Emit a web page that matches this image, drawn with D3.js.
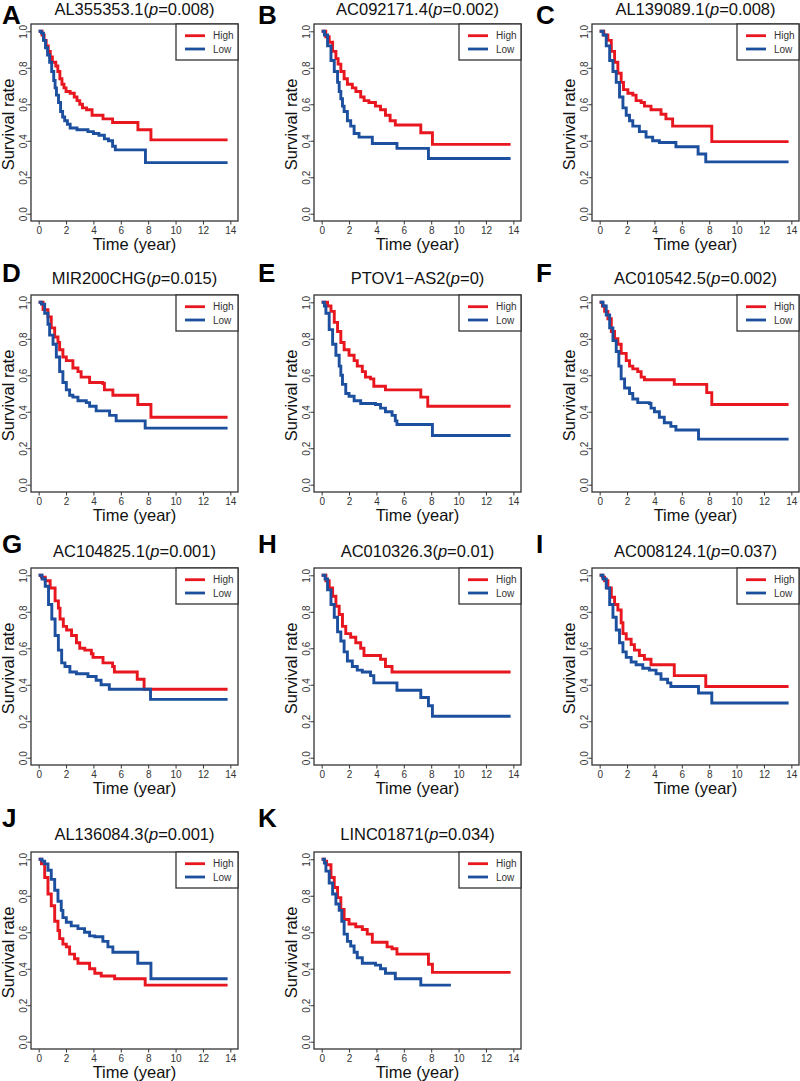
<!DOCTYPE html>
<html>
<head>
<meta charset="utf-8">
<script src="https://cdn.jsdelivr.net/npm/d3@7"></script>
<style>
  html, body { margin: 0; padding: 0; background: #fff; }
  svg { display: block; font-family: "Liberation Sans", Arial, sans-serif; }
</style>
</head>
<body>
<svg id="chart" width="800" height="1081"></svg>
<script>
// ---------- data ----------
const letters = ["A","B","C","D","E","F","G","H","I","J","K"];
const genes = ["AL355353.1","AC092171.4","AL139089.1","MIR200CHG","PTOV1\u2212AS2","AC010542.5","AC104825.1","AC010326.3","AC008124.1","AL136084.3","LINC01871"];
const pValues = ["0.008","0.002","0.008","0.015","0","0.002","0.001","0.01","0.037","0.001","0.034"];
const legendLabels = ["High","Low"];
const xTicks = [0,2,4,6,8,10,12,14];
const yTicks = [0,0.2,0.4,0.6,0.8,1.0];

const highA = [[0,1],[0.25,0.98],[0.4,0.95],[0.55,0.92],[0.7,0.89],[0.85,0.86],[1.0,0.83],[1.25,0.81],[1.4,0.78],[1.55,0.74],[1.7,0.71],[1.85,0.69],[2.0,0.67],[2.3,0.66],[2.6,0.64],[2.8,0.62],[3.0,0.60],[3.2,0.58],[3.5,0.57],[3.9,0.54],[4.7,0.52],[5.4,0.50],[7.25,0.46],[8.2,0.405],[13.8,0.405]];
const lowA = [[0,1],[0.2,0.99],[0.35,0.95],[0.5,0.91],[0.65,0.87],[0.8,0.83],[0.95,0.78],[1.1,0.73],[1.2,0.69],[1.3,0.65],[1.45,0.61],[1.6,0.56],[1.75,0.53],[1.9,0.51],[2.1,0.49],[2.3,0.47],[2.8,0.46],[3.6,0.45],[4.0,0.44],[4.4,0.43],[4.8,0.41],[5.1,0.40],[5.4,0.37],[5.6,0.35],[7.8,0.28],[13.8,0.28]];
const highB = [[0,1],[0.3,0.97],[0.55,0.94],[0.8,0.89],[1.04,0.85],[1.2,0.82],[1.4,0.78],[1.64,0.74],[1.88,0.71],[2.24,0.69],[2.5,0.67],[2.85,0.64],[3.1,0.62],[3.45,0.61],[3.93,0.59],[4.3,0.57],[4.66,0.54],[5.0,0.51],[5.38,0.486],[7.24,0.444],[8.09,0.38],[13.8,0.38]];
const lowB = [[0,1],[0.2,0.98],[0.43,0.92],[0.68,0.84],[0.92,0.78],[1.16,0.72],[1.28,0.67],[1.4,0.63],[1.52,0.59],[1.64,0.56],[1.88,0.51],[2.12,0.48],[2.37,0.44],[2.73,0.42],[3.7,0.385],[5.5,0.358],[7.8,0.303],[13.8,0.303]];
const highC = [[0,1],[0.3,0.98],[0.6,0.95],[0.85,0.89],[1.09,0.83],[1.33,0.77],[1.57,0.72],[1.74,0.68],[2.06,0.66],[2.42,0.65],[2.66,0.62],[3.03,0.61],[3.27,0.59],[3.75,0.57],[4.48,0.545],[4.84,0.52],[5.33,0.48],[8.19,0.395],[13.8,0.395]];
const lowC = [[0,1],[0.25,0.98],[0.48,0.92],[0.73,0.84],[0.97,0.78],[1.21,0.72],[1.45,0.64],[1.7,0.58],[1.94,0.54],[2.18,0.51],[2.42,0.48],[2.9,0.45],[3.39,0.42],[3.87,0.40],[4.36,0.39],[5.57,0.367],[7.19,0.327],[7.75,0.284],[13.8,0.284]];
const highD = [[0,1],[0.32,0.96],[0.68,0.92],[0.92,0.86],[1.17,0.81],[1.41,0.78],[1.53,0.74],[1.77,0.70],[2.02,0.68],[2.5,0.64],[2.87,0.62],[3.1,0.59],[3.72,0.56],[4.69,0.555],[4.8,0.52],[5.42,0.49],[7.24,0.44],[8.2,0.37],[13.8,0.37]];
const lowD = [[0,1],[0.2,0.99],[0.44,0.94],[0.68,0.88],[0.8,0.82],[1.05,0.77],[1.29,0.70],[1.53,0.62],[1.77,0.56],[2.02,0.52],[2.26,0.49],[2.5,0.48],[2.87,0.46],[3.48,0.45],[3.72,0.43],[4.2,0.405],[5.18,0.38],[5.66,0.35],[7.78,0.31],[13.8,0.31]];
const highE = [[0,1],[0.43,0.98],[0.68,0.95],[0.92,0.89],[1.16,0.84],[1.4,0.78],[1.64,0.74],[2.0,0.71],[2.37,0.68],[2.6,0.65],[2.97,0.62],[3.2,0.59],[3.57,0.58],[3.81,0.54],[4.66,0.52],[7.24,0.48],[7.75,0.43],[13.8,0.43]];
const lowE = [[0,1],[0.2,0.98],[0.31,0.94],[0.55,0.85],[0.8,0.77],[1.04,0.71],[1.28,0.65],[1.4,0.60],[1.52,0.55],[1.76,0.50],[2.0,0.485],[2.37,0.46],[2.85,0.445],[3.93,0.44],[4.3,0.42],[4.66,0.40],[5.14,0.38],[5.38,0.35],[5.5,0.33],[8.09,0.27],[13.8,0.27]];
const highF = [[0,1],[0.2,0.98],[0.36,0.95],[0.6,0.91],[0.85,0.84],[1.09,0.80],[1.33,0.77],[1.57,0.72],[1.94,0.68],[2.18,0.65],[2.42,0.635],[2.78,0.62],[3.03,0.59],[3.27,0.575],[5.45,0.55],[7.82,0.505],[8.19,0.44],[13.8,0.44]];
const lowF = [[0,1],[0.25,0.98],[0.48,0.93],[0.73,0.86],[0.97,0.79],[1.21,0.73],[1.4,0.65],[1.57,0.58],[1.82,0.53],[2.18,0.50],[2.42,0.47],[2.78,0.45],[3.63,0.445],[3.75,0.42],[4.0,0.40],[4.36,0.37],[4.72,0.34],[5.2,0.32],[5.57,0.30],[7.22,0.25],[13.8,0.25]];
const highG = [[0,1],[0.2,0.99],[0.48,0.97],[0.84,0.93],[1.2,0.86],[1.44,0.82],[1.56,0.76],[1.8,0.72],[2.04,0.70],[2.4,0.67],[2.76,0.63],[3.0,0.60],[3.37,0.59],[3.85,0.57],[3.97,0.55],[4.7,0.52],[5.4,0.50],[5.53,0.47],[7.2,0.43],[7.7,0.375],[13.8,0.375]];
const lowG = [[0,1],[0.25,0.98],[0.48,0.94],[0.72,0.84],[0.96,0.76],[1.2,0.67],[1.44,0.59],[1.68,0.52],[1.92,0.50],[2.28,0.47],[2.76,0.46],[3.6,0.445],[4.2,0.425],[4.56,0.40],[5.16,0.375],[8.17,0.32],[13.8,0.32]];
const highH = [[0,1],[0.31,0.97],[0.55,0.93],[0.8,0.885],[1.04,0.83],[1.28,0.785],[1.52,0.72],[1.76,0.68],[2.12,0.66],[2.49,0.63],[2.85,0.60],[3.09,0.56],[4.3,0.54],[4.66,0.50],[5.14,0.47],[13.8,0.47]];
const lowH = [[0,1],[0.25,0.98],[0.43,0.92],[0.68,0.84],[0.92,0.77],[1.16,0.69],[1.4,0.64],[1.64,0.58],[1.88,0.53],[2.24,0.50],[2.6,0.48],[2.97,0.47],[3.57,0.45],[3.81,0.41],[5.5,0.37],[7.24,0.33],[7.8,0.285],[8.09,0.227],[13.8,0.227]];
const highI = [[0,1],[0.2,0.99],[0.36,0.97],[0.6,0.93],[0.85,0.88],[1.09,0.84],[1.33,0.81],[1.57,0.74],[1.7,0.68],[1.94,0.65],[2.3,0.62],[2.54,0.59],[2.9,0.56],[3.27,0.54],[3.75,0.51],[5.45,0.45],[7.75,0.39],[13.8,0.39]];
const lowI = [[0,1],[0.25,0.98],[0.48,0.93],[0.73,0.84],[0.97,0.77],[1.21,0.70],[1.45,0.63],[1.7,0.58],[1.94,0.55],[2.3,0.525],[2.66,0.51],[3.15,0.49],[3.63,0.48],[4.12,0.46],[4.48,0.43],[4.96,0.41],[5.2,0.39],[7.22,0.355],[8.19,0.30],[13.8,0.30]];
const highJ = [[0,1],[0.2,0.975],[0.44,0.90],[0.68,0.81],[0.92,0.745],[1.17,0.66],[1.41,0.61],[1.53,0.565],[1.77,0.535],[2.02,0.52],[2.26,0.48],[2.62,0.455],[2.87,0.43],[3.72,0.40],[4.1,0.375],[4.57,0.36],[5.55,0.345],[7.78,0.31],[13.8,0.31]];
const lowJ = [[0,1],[0.25,0.99],[0.44,0.975],[0.68,0.94],[0.92,0.89],[1.17,0.83],[1.41,0.77],[1.65,0.72],[1.77,0.68],[2.02,0.655],[2.38,0.635],[2.87,0.62],[3.35,0.60],[3.72,0.58],[4.1,0.575],[4.69,0.55],[5.06,0.52],[5.42,0.49],[7.24,0.43],[8.2,0.345],[13.8,0.345]];
const highK = [[0,1],[0.2,0.99],[0.36,0.97],[0.68,0.90],[0.92,0.845],[1.16,0.79],[1.4,0.725],[1.64,0.67],[2.0,0.645],[2.49,0.63],[2.97,0.615],[3.33,0.59],[3.7,0.545],[4.78,0.52],[5.14,0.51],[5.5,0.48],[7.8,0.425],[8.09,0.38],[13.8,0.38]];
const lowK = [[0,1],[0.2,0.98],[0.31,0.935],[0.55,0.87],[0.8,0.81],[1.04,0.755],[1.28,0.72],[1.47,0.66],[1.64,0.59],[1.88,0.55],[2.12,0.525],[2.37,0.49],[2.6,0.46],[2.97,0.43],[3.93,0.42],[4.3,0.40],[4.66,0.375],[5.38,0.345],[7.24,0.31],[9.44,0.31]];

const highCurves = [highA,highB,highC,highD,highE,highF,highG,highH,highI,highJ,highK];
const lowCurves  = [lowA,lowB,lowC,lowD,lowE,lowF,lowG,lowH,lowI,lowJ,lowK];

// ---------- layout ----------
const colLeft = [31, 314, 592];
const rowTop = [24, 295, 568, 852];
const boxW = 207, boxH = 197;
const letterX = [2, 258, 536];
const letterBase = [24, 282, 553, 827];
const titleBase = [15, 283.5, 556.5, 839.5];
const RED = "#e8161e", BLUE = "#1d4f9f";

const svg = d3.select("#chart");
svg.append("rect").attr("width", 800).attr("height", 1081).attr("fill", "#fff");

letters.forEach((letter, i) => {
  const c = i % 3, r = Math.floor(i / 3);
  const left = colLeft[c], top = rowTop[r];
  const x = d3.scaleLinear().domain([-0.56, 14.56]).range([left, left + boxW]);
  const y = d3.scaleLinear().domain([-0.04, 1.04]).range([top + boxH, top]);
  const g = svg.append("g");

  // panel letter
  g.append("text").attr("x", letterX[c]).attr("y", letterBase[r])
    .attr("font-size", 26).attr("font-weight", "bold").attr("fill", "#000").text(letter);

  // title
  const t = g.append("text").attr("x", left + boxW / 2).attr("y", titleBase[r])
    .attr("text-anchor", "middle").attr("font-size", 16.5).attr("fill", "#111");
  t.append("tspan").text(genes[i] + "(");
  t.append("tspan").attr("font-style", "italic").text("p");
  t.append("tspan").text("=" + pValues[i] + ")");

  // axes
  const xAxis = d3.axisBottom(x).tickValues(xTicks).tickSize(3.5).tickPadding(2).tickFormat(d3.format("d"));
  const gx = g.append("g").attr("transform", `translate(0,${top + boxH})`).call(xAxis);
  gx.select(".domain").remove();
  gx.selectAll("line").attr("stroke", "#333");
  gx.selectAll("text").attr("font-size", 10).attr("fill", "#333")
    .attr("font-family", "Liberation Sans, Arial, sans-serif");

  const yAxis = d3.axisLeft(y).tickValues(yTicks).tickSize(3.5).tickFormat(d3.format(".1f"));
  const gy = g.append("g").attr("transform", `translate(${left},0)`).call(yAxis);
  gy.select(".domain").remove();
  gy.selectAll("line").attr("stroke", "#333");
  gy.selectAll("text").attr("font-size", 10).attr("fill", "#333")
    .attr("font-family", "Liberation Sans, Arial, sans-serif")
    .attr("x", null).attr("dy", null)
    .attr("text-anchor", "middle")
    .attr("transform", "translate(-4,0) rotate(-90)");

  // axis titles
  g.append("text").attr("x", left + boxW / 2).attr("y", top + boxH + 29)
    .attr("text-anchor", "middle").attr("font-size", 16.5).attr("fill", "#111").text("Time (year)");
  g.append("text").attr("transform", `translate(${left - 17.5},${top + boxH / 2 + 2}) rotate(-90)`)
    .attr("text-anchor", "middle").attr("font-size", 16.5).attr("fill", "#111").text("Survival rate");

  // curves
  const line = d3.line().x(d => x(d[0])).y(d => y(d[1])).curve(d3.curveStepAfter);
  [[highCurves[i], RED], [lowCurves[i], BLUE]].forEach(([data, col]) => {
    g.append("path").datum(data).attr("d", line)
      .attr("fill", "none").attr("stroke", col).attr("stroke-width", 2.9)
      .attr("stroke-linejoin", "miter").attr("stroke-linecap", "butt");
  });

  // frame
  g.append("rect").attr("x", left).attr("y", top).attr("width", boxW).attr("height", boxH)
    .attr("fill", "none").attr("stroke", "#333").attr("stroke-width", 1.3);

  // legend
  const lgW = 62, lgH = 36;
  const lg = g.append("g").attr("transform", `translate(${left + boxW - lgW},${top})`);
  lg.append("rect").attr("width", lgW).attr("height", lgH).attr("fill", "#fff")
    .attr("stroke", "#333").attr("stroke-width", 1.3);
  legendLabels.forEach((lab, k) => {
    const ly = 11.7 + k * 13.3;
    lg.append("line").attr("x1", 9).attr("x2", 29).attr("y1", ly).attr("y2", ly)
      .attr("stroke", k === 0 ? RED : BLUE).attr("stroke-width", 2.8);
    lg.append("text").attr("x", 37).attr("y", ly + 3.6).attr("font-size", 10)
      .attr("fill", "#333").text(lab);
  });
});
</script>
</body>
</html>
